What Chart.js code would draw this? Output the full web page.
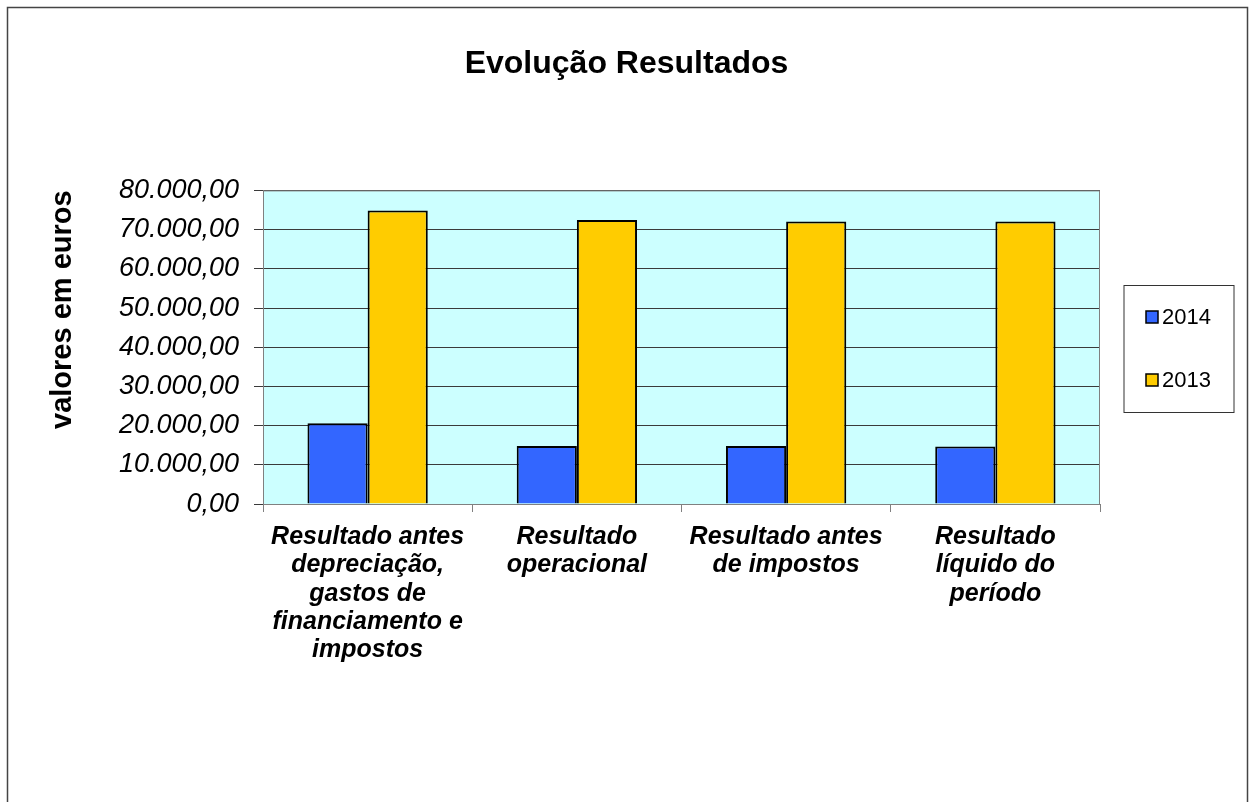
<!DOCTYPE html>
<html>
<head>
<meta charset="utf-8">
<script src="https://cdn.jsdelivr.net/npm/chart.js@4"></script>
<style>
  html, body { margin: 0; padding: 0; background: #fff; }
  #wrap { width: 1253px; height: 802px; position: relative; }
</style>
</head>
<body>
<div id="wrap"><canvas id="canvas" width="1253" height="802"></canvas></div>
<script>
// categories (one line per array entry, as wrapped in the picture)
let categories = [
  ['Resultado antes', 'depreciação,', 'gastos de', 'financiamento e', 'impostos'],
  ['Resultado', 'operacional'],
  ['Resultado antes', 'de impostos'],
  ['Resultado', 'líquido do', 'período']
];
// series
let seriesNames = ['2014', '2013'];
let values2014 = [20600, 14800, 14800, 14700];
let values2013 = [74850, 72450, 72050, 72050];
// axis
let yMin = 0;
let yMax = 80000;
let yStep = 10000;
let chartTitle = 'Evolução Resultados';
let yTitle = 'valores em euros';

const fontFamily = "'Liberation Sans', Arial, sans-serif";

// format like 80.000,00
function formatEuro(v) {
  let parts = v.toFixed(2).split('.');
  let intPart = parts[0].replace(/\B(?=(\d{3})+(?!\d))/g, '.');
  return intPart + ',' + parts[1];
}

// outer frame, plot background and plot border
const framePlugin = {
  id: 'frame',
  beforeDraw(chart) {
    const c = chart.ctx;
    const a = chart.chartArea;
    c.save();
    c.fillStyle = '#ffffff';
    c.fillRect(0, 0, chart.width, chart.height);
    c.strokeStyle = '#444';
    c.lineWidth = 1.5;
    c.strokeRect(7.5, 7.5, 1240, 900);
    c.fillStyle = '#CCFFFF';
    c.fillRect(a.left, a.top, a.right - a.left, a.bottom - a.top);
    c.restore();
  },
  afterDatasetsDraw(chart) {
    const c = chart.ctx;
    const a = chart.chartArea;
    c.save();
    c.strokeStyle = '#808080';
    c.lineWidth = 1;
    c.strokeRect(a.left + 0.5, a.top + 0.5, a.right - a.left - 1, a.bottom - a.top);
    c.restore();
  }
};

// boxed legend to the right of the plot
const boxLegend = {
  id: 'boxLegend',
  afterDraw(chart) {
    const c = chart.ctx;
    const a = chart.chartArea;
    const x0 = a.right + 24, y0 = 285.5, w = 110, h = 127;
    c.save();
    c.fillStyle = '#fff';
    c.fillRect(x0, y0, w, h);
    c.strokeStyle = '#333';
    c.lineWidth = 1;
    c.strokeRect(x0, y0, w, h);
    c.font = '22px ' + fontFamily;
    c.textBaseline = 'middle';
    chart.data.datasets.forEach((ds, i) => {
      const cy = 317 + i * 63;
      c.fillStyle = ds.backgroundColor;
      c.fillRect(x0 + 22, cy - 6, 12, 12);
      c.strokeStyle = '#000';
      c.lineWidth = 1.5;
      c.strokeRect(x0 + 22, cy - 6, 12, 12);
      c.fillStyle = '#000';
      c.fillText(ds.label, x0 + 38, cy + 1);
    });
    c.restore();
  }
};

const data = {
  labels: categories,
  datasets: [
    {
      label: seriesNames[0],
      data: values2014,
      backgroundColor: '#3366FF',
      borderColor: '#000000',
      borderWidth: 2,
      barPercentage: 1.0,
      categoryPercentage: 0.575
    },
    {
      label: seriesNames[1],
      data: values2013,
      backgroundColor: '#FFCC00',
      borderColor: '#000000',
      borderWidth: 2,
      barPercentage: 1.0,
      categoryPercentage: 0.575
    }
  ]
};

const config = {
  type: 'bar',
  data: data,
  options: {
    responsive: false,
    animation: false,
    layout: {
      padding: { left: 0, right: 0, top: 0, bottom: 0 }
    },
    plugins: {
      legend: { display: false },
      tooltip: { enabled: false },
      title: {
        display: true,
        text: chartTitle,
        color: '#000',
        font: { family: fontFamily, size: 32, weight: 'bold', lineHeight: 1.2 },
        padding: { top: 45, bottom: 107 }
      }
    },
    scales: {
      x: {
        offset: true,
        grid: {
          offset: true,
          drawOnChartArea: false,
          drawTicks: true,
          tickLength: 8,
          color: '#808080'
        },
        border: { color: '#808080' },
        ticks: {
          color: '#000',
          padding: 11,
          maxRotation: 0,
          autoSkip: false,
          font: { family: fontFamily, size: 25, weight: 'bold', style: 'italic', lineHeight: 1.13 }
        },
        afterFit(scale) { scale.height = 298; }
      },
      y: {
        min: yMin,
        max: yMax,
        grid: {
          color: '#3a3a3a',
          tickLength: 9,
          drawTicks: true
        },
        border: { color: '#808080' },
        ticks: {
          stepSize: yStep,
          color: '#000',
          padding: 15,
          font: { family: fontFamily, size: 27, style: 'italic' },
          callback: (v) => formatEuro(v)
        },
        title: {
          display: true,
          text: yTitle,
          align: 'end',
          color: '#000',
          font: { family: fontFamily, size: 29, weight: 'bold', lineHeight: 1.2 },
          padding: { top: 46, bottom: 0 }
        },
        afterFit(scale) { scale.width = 263; }
      },
      // empty right-hand axis that only reserves room for the legend box
      legendSpace: {
        type: 'linear',
        position: 'right',
        display: true,
        grid: { display: false, drawTicks: false },
        border: { display: false },
        ticks: { display: false },
        afterFit(scale) { scale.width = 153; }
      }
    }
  },
  plugins: [framePlugin, boxLegend]
};

let chart = new Chart(document.getElementById('canvas').getContext('2d'), config);
</script>
</body>
</html>
